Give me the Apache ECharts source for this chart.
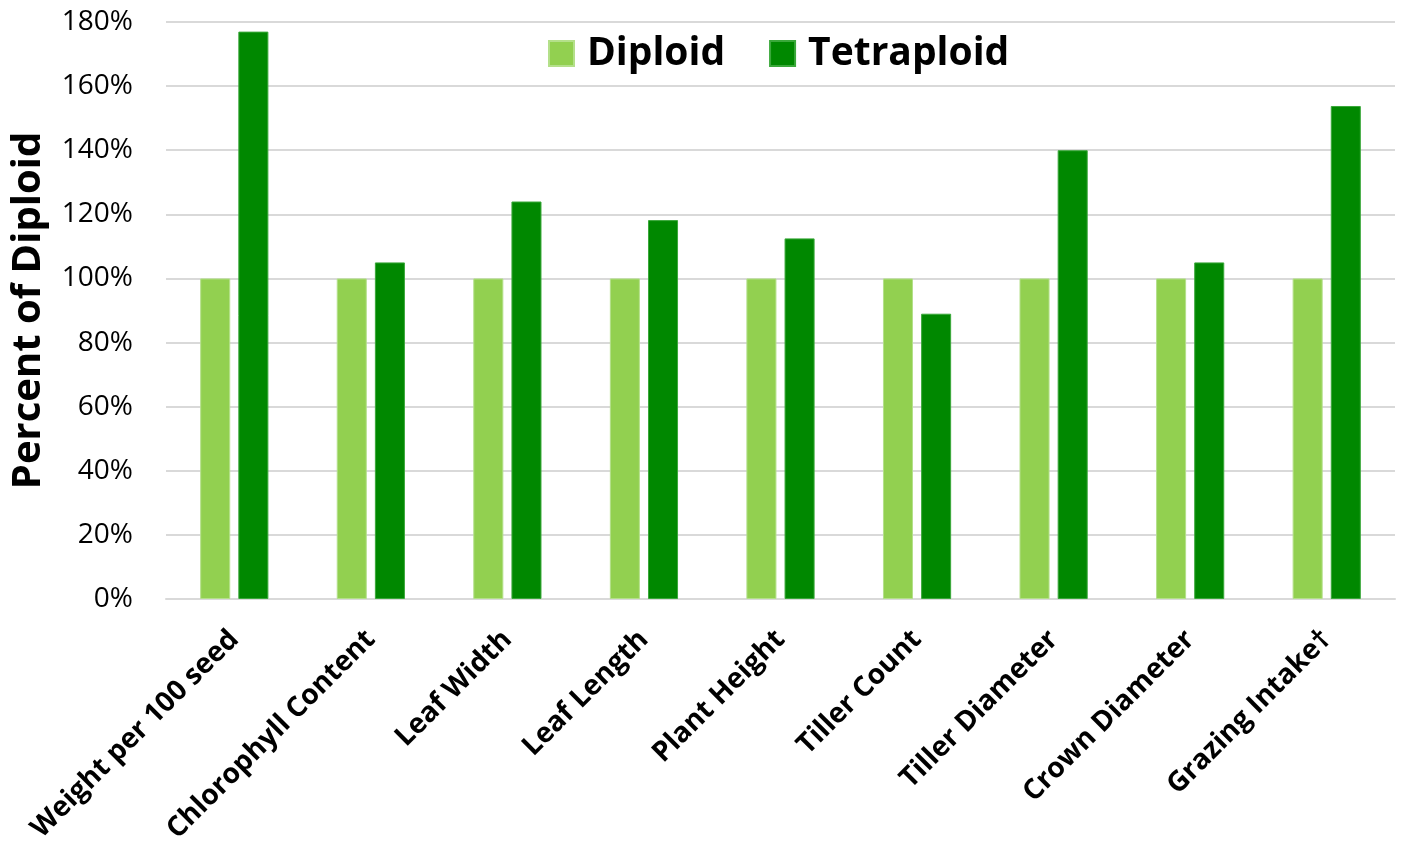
<!DOCTYPE html>
<html>
<head>
<meta charset="utf-8">
<script src="https://cdn.jsdelivr.net/npm/echarts@6/dist/echarts.min.js"></script>
<style>
  html, body { margin: 0; padding: 0; background: #fff; }
  #chart1 { width: 1402px; height: 848px; }
</style>
</head>
<body>
<div id="chart1"></div>
<script>
// 数据
const categories = ['Weight per 100 seed', 'Chlorophyll Content', 'Leaf Width', 'Leaf Length',
  'Plant Height', 'Tiller Count', 'Tiller Diameter', 'Crown Diameter', 'Grazing Intake†'];
const diploid = [100, 100, 100, 100, 100, 100, 100, 100, 100];
const tetraploid = [177, 105, 124, 118.2, 112.5, 89, 140, 105, 153.8];
const seriesNames = ['Diploid', 'Tetraploid'];

const font = '"Open Sans", Lato, "Liberation Sans", sans-serif';

let myChart = echarts.init(document.getElementById('chart1'));
myChart.setOption({
  animation: false,
  textStyle: { fontFamily: font },
  legend: {
    data: seriesNames,
    top: 29,
    left: 543,
    icon: 'rect',
    itemWidth: 25,
    itemHeight: 25,
    itemGap: 44,
    textStyle: { fontSize: 39, fontWeight: 'bold', color: '#000', fontFamily: font, padding: [0, 0, 0, 8] }
  },
  grid: { // 绘图区域
    left: 166,
    right: 7,
    top: 22,
    bottom: 249,
    outerBoundsMode: 'none'
  },
  xAxis: {
    type: 'category',
    data: categories,
    axisLine: { lineStyle: { color: '#d9d9d9', width: 2 } },
    axisTick: { show: false },
    axisLabel: {
      rotate: 45,
      interval: 0,
      margin: 36,
      fontSize: 28,
      fontWeight: 'bold',
      color: '#000',
      fontFamily: font
    }
  },
  yAxis: {
    type: 'value',
    min: 0,
    max: 180,
    interval: 20,
    name: 'Percent of Diploid',
    nameLocation: 'middle',
    nameGap: 117,
    nameTextStyle: { fontSize: 40, fontWeight: 'bold', color: '#000', fontFamily: font },
    axisLabel: {
      formatter: '{value}%',
      fontSize: 28,
      color: '#000',
      margin: 33,
      fontFamily: font
    },
    splitLine: { lineStyle: { color: '#d9d9d9', width: 2 } }
  },
  series: [
    {
      name: seriesNames[0],
      type: 'bar',
      data: diploid,
      barWidth: '22%',
      barGap: '27%',
      itemStyle: { color: '#92d050', borderColor: '#b4e08a', borderWidth: 1 }
    },
    {
      name: seriesNames[1],
      type: 'bar',
      data: tetraploid,
      barWidth: '22%',
      itemStyle: { color: '#008800', borderColor: '#3aa83a', borderWidth: 1 }
    }
  ]
});
</script>
</body>
</html>
